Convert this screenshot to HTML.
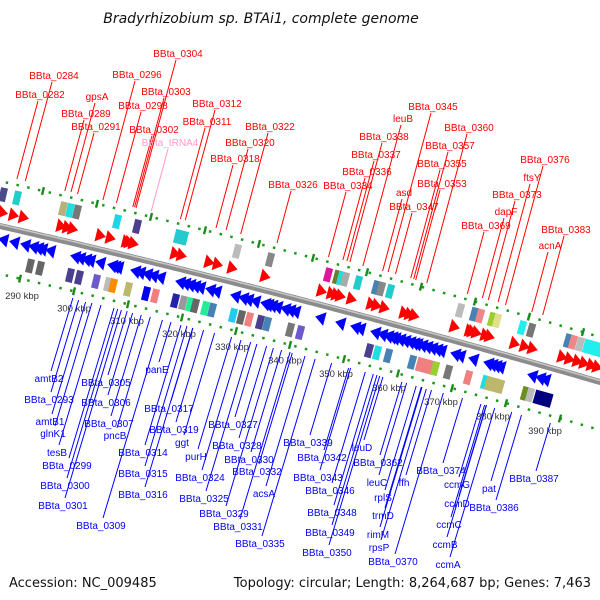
<!DOCTYPE html>
<html><head><meta charset="utf-8"><style>
html,body{margin:0;padding:0;background:#fff;}
svg{display:block;font-family:"Liberation Sans","DejaVu Sans",sans-serif;}
</style></head><body>
<svg id="map" width="600" height="600" viewBox="0 0 600 600" xmlns="http://www.w3.org/2000/svg">
<text x="261" y="23" text-anchor="middle" font-size="14" font-style="italic" fill="#111" font-family="DejaVu Sans, sans-serif">Bradyrhizobium sp. BTAi1, complete genome</text>
<text x="9" y="587" font-size="13" fill="#111" font-family="DejaVu Sans, sans-serif">Accession: NC_009485</text>
<text x="591" y="587" text-anchor="end" font-size="13" fill="#111" font-family="DejaVu Sans, sans-serif">Topology: circular; Length: 8,264,687 bp; Genes: 7,463</text>
<g id="tracks"></g>
<g id="labels"></g>
</svg>
<script>
// ---- data (x positions along map in kbp) ----
const tickKbp = [290,300,310,320,330,340,350,360,370,380,390];
const tickLabelX = [22,74,127,179,232,285,336,389,441,493,545];
const fwdArrowKbp = [286.4,288.5,290.4,297.6,298.8,299.8,305.1,307.0,310.1,310.6,311.4,319.4,320.6,325.9,327.5,330.3,336.6,347.4,349.3,350.2,351.0,353.1,356.9,357.9,359.4,363.2,364.2,365.1,372.8,375.7,376.2,377.0,378.7,379.5,384.3,386.2,387.7,393.4,394.8,396.3,397.6,399.0,400.1];
const revArrowX = [3,14,25,33,38,42,50,75,80,86,90,100,112,115,118,135,140,147,153,160,180,185,190,195,200,210,216,235,243,248,255,265,268,272,277,285,290,295,320,340,355,360,375,382,388,392,395,400,405,410,414,417,422,427,432,437,441,455,460,473,488,492,496,500,532,540,545];
const topBoxX = [3,17,63,70,77,117,137,178,184,237,270,328,337,341,345,358,376,381,390,460,474,480,492,497,522,531,568,573,580,587,593,599];
const topBoxColor = ["#4b4b8a","#22cccc","#b8b07a","#22dddd","#777","#1fd6e6","#4b3f8f","#26c9d3","#22cccc","#bbb","#888","#e0159a","#6b7f2a","#22dddd","#aaa","#22cccc","#4682b4","#888","#22cccc","#bbb","#4682b4","#e88","#9acd32","#e0e08c","#22eeee","#777","#4682b4","#e88","#bbb","#22eeee","#22eeee","#22eeee"];
const botBoxX = [30,40,70,79,96,108,113,128,146,155,175,183,190,195,205,212,233,241,249,260,267,290,300,369,377,388,412,420,425,430,435,448,468,485,489,495,500,525,530,543];
const botBoxColor = ["#666","#666","#4b3f8f","#4b3f8f","#6a5acd","#bbb","#ff8c00","#bdb76b","#0000ee","#f08080","#2222aa","#999","#22ee99","#666","#22ee99","#4682b4","#22ccee","#666","#f08080","#4b3f8f","#4682b4","#777","#6a5acd","#4b3f8f","#22dddd","#4682b4","#4682b4","#f08080","#f08080","#f08080","#9acd32","#777","#f08080","#22dddd","#bdb76b","#bdb76b","#bdb76b","#6b8e23","#bbb","#000080"];
const redLabels = ["BBta_0284","BBta_0282","gpsA","BBta_0289","BBta_0291","BBta_0296","BBta_0303","BBta_0298","BBta_0302","BBta_tRNA4","BBta_0304","BBta_0312","BBta_0311","BBta_0322","BBta_0320","BBta_0318","BBta_0326","BBta_0334","BBta_0336","BBta_0337","BBta_0338","leuB","BBta_0345","asd","BBta_0347","BBta_0360","BBta_0357","BBta_0355","BBta_0353","BBta_0376","ftsY","BBta_0373","dapF","BBta_0369","BBta_0383","acnA"];
const redLabelX = [54,40,97,86,96,137,166,143,154,170,178,217,207,270,250,235,293,348,367,376,384,403,433,404,414,469,450,442,442,545,532,517,506,486,566,550];
const redLabelY = [79,98,100,117,130,78,95,109,133,146,57,107,125,130,146,162,188,189,175,158,140,122,110,196,210,131,149,167,187,163,181,198,215,229,233,249];
const blueLabels = ["amtB2","BBta_0293","amtB1","glnK1","tesB","BBta_0299","BBta_0300","BBta_0301","BBta_0305","BBta_0306","BBta_0307","pncB","BBta_0309","panE","BBta_0317","BBta_0319","ggt","purH","BBta_0314","BBta_0315","BBta_0316","BBta_0324","BBta_0325","BBta_0327","BBta_0328","BBta_0330","BBta_0332","acsA","BBta_0329","BBta_0331","BBta_0335","BBta_0339","BBta_0342","BBta_0343","BBta_0346","BBta_0348","BBta_0349","BBta_0350","leuD","BBta_0362","leuC","ffh","rplS","trmD","rimM","rpsP","BBta_0370","BBta_0374","ccmG","ccmD","ccmC","ccmB","ccmA","BBta_0386","pat","BBta_0387"];
const blueLabelX = [49,49,50,53,57,67,65,63,106,106,109,115,101,157,169,174,182,196,143,143,143,200,204,233,237,249,257,264,224,238,260,308,322,318,330,332,330,327,362,378,377,404,383,383,378,379,393,441,457,457,449,445,448,494,489,534];
const blueLabelY = [382,403,425,437,456,469,489,509,386,406,427,439,529,373,412,433,446,460,456,477,498,481,502,428,449,463,475,497,517,530,547,446,461,481,494,516,536,556,451,466,486,486,501,519,538,551,565,474,488,507,528,548,568,511,492,482];

// ---- geometry ----
const xOf = k => 22 + (k - 290) * 5.23;
const B = x => 226 + 0.23 * x + 0.00005 * x * x;
const U = x => B(x) - 45;
const L = x => B(x) + 48;
const NS = "http://www.w3.org/2000/svg";
const tracks = document.getElementById('tracks');
const labels = document.getElementById('labels');
function mk(tag, attrs, parent) {
  const e = document.createElementNS(NS, tag);
  for (const k in attrs) e.setAttribute(k, attrs[k]);
  parent.appendChild(e);
  return e;
}
function angle(x) { return Math.atan(0.23 + 0.0001 * x) * 180 / Math.PI; }
function curvePath(f) {
  let d = '';
  for (let x = -5; x <= 605; x += 5) d += (d ? 'L' : 'M') + x + ',' + f(x).toFixed(1);
  return d;
}

// dotted lines
[U, L].forEach((f, i) => {
  const p = mk('path', {d: curvePath(f), fill: 'none', stroke: '#1a9a1a', 'stroke-width': 2.5, 'stroke-dasharray': '2.5 8.5'}, tracks);
  
  
  for (let x = 0; x < 600; x += 54) {
    const xx = x + (i ? 20 : 43);
    const y = f(xx);
    const t = mk('rect', {x: xx - 1.2, y: y - 4, width: 2.4, height: 8, fill: '#1a8a1a', transform: `rotate(${angle(xx)} ${xx} ${y})`}, tracks);
    
    
  }
});

// backbone
const bb = mk('path', {d: curvePath(B), fill: 'none', stroke: '#8c8c8c', 'stroke-width': 6}, tracks);


const bb2 = mk('path', {d: curvePath(x => B(x) - 1.5), fill: 'none', stroke: '#c8c8c8', 'stroke-width': 1.5}, tracks);



// tick labels
tickKbp.forEach((k, i) => {
  const x = tickLabelX[i];
  const t = mk('text', {x: x, y: (L(x) + 20).toFixed(1), 'text-anchor': 'middle', 'font-size': 9.5, fill: '#333'}, tracks);
  t.textContent = k + ' kbp';
  
  
});

// forward arrows
fwdArrowKbp.forEach(k => {
  const x = xOf(k), y = B(x) - 14;
  const a = mk('polygon', {points: `${x-5},${y-7} ${x+5},${y} ${x-5},${y+7}`, fill: '#ff0000', transform: `rotate(${angle(x)} ${x} ${y})`}, tracks);
  
  
});
// reverse arrows
revArrowX.forEach(x => {
  const y = B(x) + 13;
  const a = mk('polygon', {points: `${x+5},${y-7} ${x-5},${y} ${x+5},${y+7}`, fill: '#0000ff', transform: `rotate(${angle(x)} ${x} ${y})`}, tracks);
  
  
});
// boxes
topBoxX.forEach((x, i) => {
  const y = B(x) - 32;
  const r = mk('rect', {x: x - 3.5, y: y - 7, width: 7, height: 14, fill: topBoxColor[i], transform: `rotate(${angle(x)} ${x} ${y})`}, tracks);
  
  
});
botBoxX.forEach((x, i) => {
  const y = B(x) + 33;
  const w = i === botBoxX.length - 1 ? 18 : 7;
  const r = mk('rect', {x: x - w / 2, y: y - 7, width: w, height: 14, fill: botBoxColor[i], transform: `rotate(${angle(x)} ${x} ${y})`}, tracks);
  
  
});

// labels
redLabels.forEach((s, i) => {
  const cx = redLabelX[i], by = redLabelY[i];
  const col = s === 'BBta_tRNA4' ? '#ff99cc' : '#ff0000';
  const t = mk('text', {x: cx, y: by, 'text-anchor': 'middle', 'font-size': 10, fill: col}, labels);
  t.textContent = s;
  
  
  let x1 = cx - 2, y1 = by + 3, x2 = x1, y2 = y1;
  while (y2 < U(x2) - 6) { y2 += 1; x2 -= 0.27; }
  const l = mk('line', {x1: x1, y1: y1, x2: x2.toFixed(1), y2: y2, stroke: col, 'stroke-width': 1}, labels);
  
  
});
blueLabels.forEach((s, i) => {
  const cx = blueLabelX[i], by = blueLabelY[i];
  const t = mk('text', {x: cx, y: by, 'text-anchor': 'middle', 'font-size': 10, fill: '#0000ff'}, labels);
  t.textContent = s;
  
  
  let x1 = cx + 2, y1 = by - 11, x2 = x1, y2 = y1;
  while (y2 > L(x2) + 8) { y2 -= 1; x2 += 0.3; }
  const l = mk('line', {x1: x1, y1: y1, x2: x2.toFixed(1), y2: y2, stroke: '#0000ff', 'stroke-width': 1}, labels);
  
  
});
</script>
</body></html>
